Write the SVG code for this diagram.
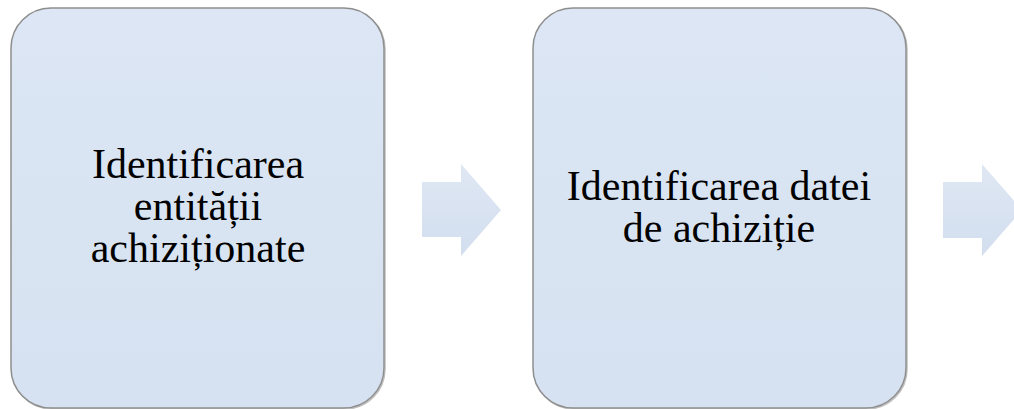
<svg xmlns="http://www.w3.org/2000/svg" width="1014" height="409" viewBox="0 0 1014 409">
<defs>
<linearGradient id="boxg" x1="0" y1="0" x2="0" y2="1">
<stop offset="0" stop-color="#dce6f4"/>
<stop offset="1" stop-color="#d6e2f1"/>
</linearGradient>
<linearGradient id="arrg" x1="0" y1="0" x2="0" y2="1">
<stop offset="0" stop-color="#dfe7f3"/>
<stop offset="1" stop-color="#d2deef"/>
</linearGradient>
</defs>
<style>
.box{fill:url(#boxg);stroke:#8e8e8e;stroke-width:1.5}
.shadow{fill:none;stroke:#c0c0c0;stroke-width:1.5}
.arr{fill:url(#arrg);stroke:none}
.t{font-family:"Liberation Serif","Times New Roman",serif;font-size:42px;fill:#000;text-anchor:middle}
</style>
<rect width="1014" height="409" fill="#ffffff"/>
<g id="node1">
<rect class="shadow" x="12" y="9" width="373" height="400" rx="40" ry="40"/>
<rect class="box" x="11" y="8" width="373" height="400" rx="40" ry="40"/>
<text class="t" x="198" y="178">Identificarea</text>
<text class="t" x="198" y="220">entității</text>
<text class="t" x="198" y="262">achiziționate</text>
</g>
<g id="node2">
<rect class="shadow" x="534" y="9" width="373" height="400" rx="40" ry="40"/>
<rect class="box" x="533" y="8" width="373" height="400" rx="40" ry="40"/>
<text class="t" x="719" y="200">Identificarea datei</text>
<text class="t" x="719" y="242">de achiziție</text>
</g>
<g id="connectors">
<polygon class="arr" points="422,182 461,182 461,164 501,210 461,256 461,237 422,237"/>
<polygon class="arr" points="943,182 982,182 982,164 1022,210 982,256 982,238 943,238"/>
</g>
</svg>
